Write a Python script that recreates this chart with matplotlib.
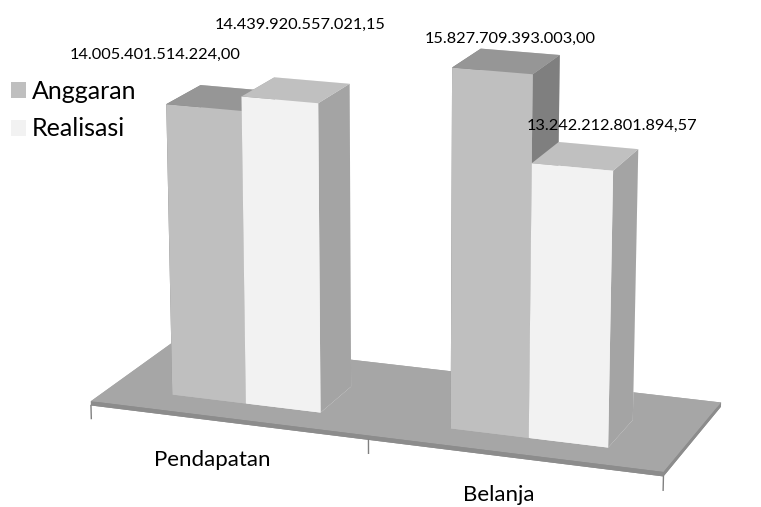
import matplotlib
matplotlib.use('Agg')
import matplotlib.pyplot as plt
from mpl_toolkits.mplot3d import Axes3D  # noqa
from mpl_toolkits.mplot3d import proj3d
from matplotlib.patches import Patch

categories = ['Pendapatan', 'Belanja']
series = ['Anggaran', 'Realisasi']
anggaran = [14005401514224.00, 15827709393003.00]
realisasi = [14439920557021.15, 13242212801894.57]
value_axis_min = 5e12
value_axis_max = 16.2e12

# label offsets (points) from each bar's top centre, [category][series]
label_offsets = [[(-47, 31), (3, 47)], [(3, 16), (19, 22)]]
cat_label_offset = (-11, -27)


def fmt_id(v):
    s = f"{v:,.2f}"
    return s.replace(',', 'X').replace('.', ',').replace('X', '.')


plt.rcParams['font.family'] = ['Lato', 'DejaVu Sans']

front_col = ['#bfbfbf', '#f2f2f2']
top_col = ['#969696', '#c0c0c0']
side_col = ['#7f7f7f', '#a4a4a4']

W, H = 761, 507
fig = plt.figure(figsize=(W / 100, H / 100), dpi=100)
ax = fig.add_axes([15 / W, 0.5 - 0.75 * W / H + 0.04 + 1 / H, 1, 1.5 * W / H],
                  projection='3d', computed_zorder=False)
ax.set_axis_off()
ax.set_proj_type('persp', focal_length=0.8)
ax.view_init(elev=16, azim=-70)
zmin, zmax = value_axis_min, value_axis_max
zr = zmax - zmin
n = len(categories)
ax.set_xlim(0, n)
ax.set_ylim(0, 1)
ax.set_zlim(zmin, zmax)
ax.set_box_aspect((574, 205, 362), zoom=0.95)

bw = 0.27
depth0, depth1 = 0.22, 0.62
floor_t = zr * 0.012

# floor
ax.bar3d(0, 0, zmin - floor_t, n, 1, floor_t,
         color=['#8c8c8c', '#a6a6a6', '#8c8c8c', '#a6a6a6', '#a6a6a6', '#8c8c8c'],
         shade=False, zorder=1)

xs, ys, zs, dxs, dys, dzs, cols = [], [], [], [], [], [], []
for i in range(n):
    for j, vals in enumerate([anggaran, realisasi]):
        x0 = i + (1 - 2 * bw) / 2 + j * bw
        xs.append(x0); ys.append(depth0); zs.append(zmin)
        dxs.append(bw); dys.append(depth1 - depth0); dzs.append(vals[i] - zmin)
        cols += [front_col[j], top_col[j], front_col[j], front_col[j], side_col[j], side_col[j]]
ax.bar3d(xs, ys, zs, dxs, dys, dzs, color=cols, shade=False, zorder=2)

for k in range(n + 1):
    ax.plot([k, k], [0, 0], [zmin - floor_t, zmin - floor_t - zr * 0.037],
            color='#808080', lw=1, zorder=3)

M = ax.get_proj()
for i, c in enumerate(categories):
    px, py, _ = proj3d.proj_transform(i + 0.5, 0, zmin - floor_t, M)
    ax.annotate(c, (px, py), xycoords='data', xytext=cat_label_offset,
                textcoords='offset points', ha='center', va='center', fontsize=16,
                annotation_clip=False, zorder=4)

for i in range(n):
    for j, vals in enumerate([anggaran, realisasi]):
        x0 = i + (1 - 2 * bw) / 2 + j * bw
        px, py, _ = proj3d.proj_transform(x0 + bw / 2, (depth0 + depth1) / 2, vals[i], M)
        ax.annotate(fmt_id(vals[i]), (px, py), xycoords='data', xytext=label_offsets[i][j],
                    textcoords='offset points', ha='center', va='center', fontsize=11.8,
                    annotation_clip=False, zorder=5)

handles = [Patch(facecolor=front_col[j], edgecolor='none', label=s) for j, s in enumerate(series)]
fig.legend(handles=handles, loc='upper left', bbox_to_anchor=(11 / W, 1 - 80 / H), frameon=False,
           borderaxespad=0, borderpad=0,
           fontsize=18, handlelength=0.6, handleheight=0.6, handletextpad=0.22, labelspacing=0.58)

fig.savefig('out.png', dpi=100)
